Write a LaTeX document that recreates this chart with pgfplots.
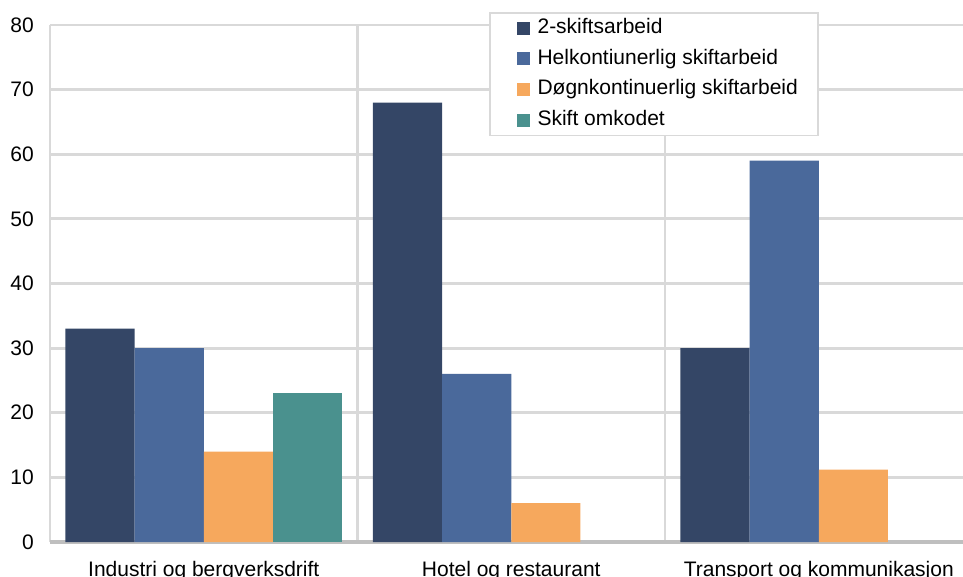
\documentclass[border=0pt]{standalone}
\usepackage{fontspec}
\setmainfont{Liberation Sans}
\usepackage{pgfplots}
\pgfplotsset{compat=1.18}
\definecolor{cA}{RGB}{52,70,102}
\definecolor{cB}{RGB}{74,105,155}
\definecolor{cC}{RGB}{246,168,93}
\definecolor{cD}{RGB}{74,145,142}
\definecolor{gridc}{RGB}{217,217,217}
\definecolor{axc}{RGB}{191,191,191}
\begin{document}
\begin{tikzpicture}
\useasboundingbox (-37.5pt,-25.5pt) rectangle (684.75pt,406.5pt);
\clip (-37.5pt,-25.5pt) rectangle (684.75pt,406.5pt);
\begin{axis}[
  at={(0pt,0pt)}, anchor=south west,
  scale only axis,
  width=691.9pt, height=387.75pt,
  xmin=-0.5, xmax=2.5, ymin=0, ymax=80,
  ytick={0,10,...,80},
  xtick={0,1,2},
  xticklabels={Industri og bergverksdrift, Hotel og restaurant, Transport og kommunikasjon},
  minor xtick={-0.5,0.5,1.5,2.5},
  xminorgrids=true, ymajorgrids=true,
  grid style={draw=gridc, line width=2.2pt},
  minor grid style={draw=gridc, line width=2.2pt},
  extra y ticks={0}, extra y tick labels={},
  extra y tick style={ymajorgrids=true, grid style={draw=axc, line width=2.5pt}},
  axis line style={draw=none},
  major tick length=0pt, minor tick length=0pt,
  tick style={draw=none},
  /pgf/number format/assume math mode=true,
  tick label style={font=\fontsize{15.75}{18}\selectfont},
  yticklabel style={inner sep=0pt, xshift=-12pt},
  xticklabel style={inner sep=0pt, anchor=north, yshift=-14pt},
  bar width=0.225,
  legend cell align=left,
  legend image code/.code={\path[draw=none,fill=none] (0pt,0pt) -- (5pt,0pt); \fill[#1, draw=none] (5pt,-4.9pt) rectangle (14.8pt,4.9pt);},
  legend style={at={(0.4759,1.0251)}, anchor=north west, draw=gridc, line width=1.2pt, fill=white,
    font=\fontsize{15.75}{18}\selectfont, inner xsep=15pt, inner ysep=4pt,
    row sep=8pt,
    nodes={inner sep=0pt, text height=11.5pt, text depth=3.5pt},
    /tikz/every odd column/.append style={column sep=6pt}},
]
\addplot[ybar, fill=cA, draw=none, bar shift=-0.3375] coordinates {(0,33) (1,68) (2,30)};
\addlegendentry{2-skiftsarbeid}
\addplot[ybar, fill=cB, draw=none, bar shift=-0.1125] coordinates {(0,30) (1,26) (2,59)};
\addlegendentry{Helkontiunerlig skiftarbeid}
\addplot[ybar, fill=cC, draw=none, bar shift=0.1125] coordinates {(0,14) (1,6) (2,11.2)};
\addlegendentry{Døgnkontinuerlig skiftarbeid}
\addplot[ybar, fill=cD, draw=none, bar shift=0.3375] coordinates {(0,23)};
\addlegendentry{Skift omkodet}
\end{axis}
\end{tikzpicture}
\end{document}
